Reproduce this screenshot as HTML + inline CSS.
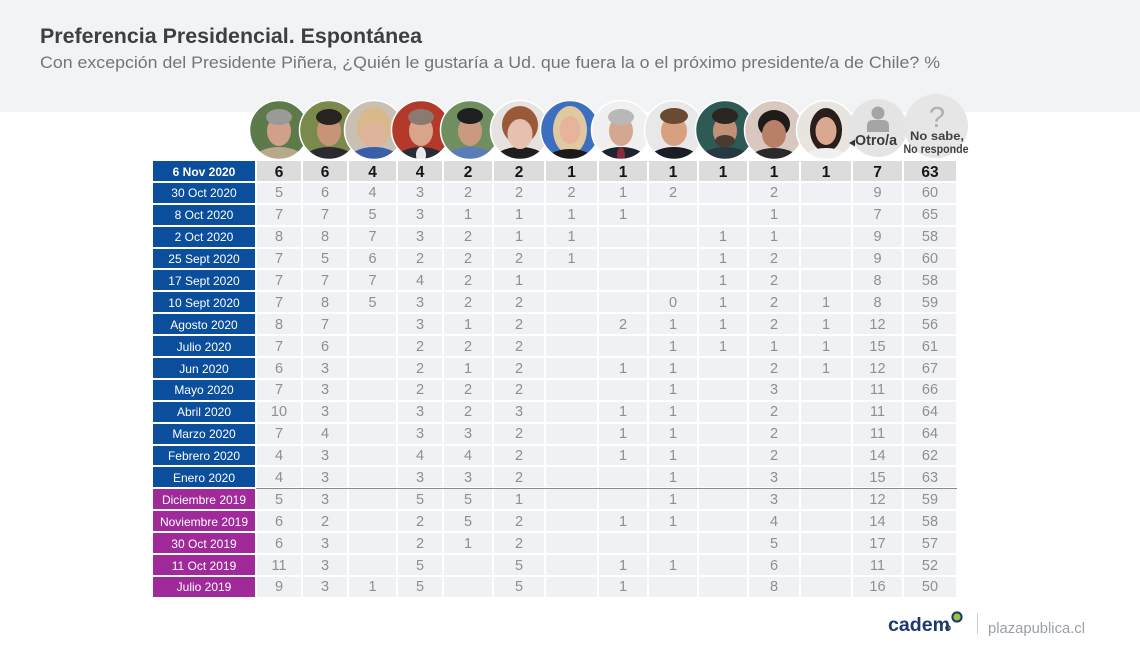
<!DOCTYPE html>
<html><head><meta charset="utf-8">
<style>
html,body{margin:0;padding:0;background:#fff;}
body{width:1140px;height:648px;position:relative;overflow:hidden;font-family:"Liberation Sans",sans-serif;}
.band{position:absolute;left:0;top:0;width:1140px;height:112px;background:#f2f3f5;}
svg.ov{position:absolute;left:0;top:0;}
.g{position:absolute;left:153px;top:161px;display:grid;grid-template-columns:102px 44px 44px 47px 44px 48px 50px 51px 48px 48px 48px 50px 50px 49px 52px;grid-auto-rows:19.9px;gap:2px;}
.g div{background:#eff1f4;color:#8f8f8f;font:14.5px/17.4px "Liberation Sans",sans-serif;padding-top:2.5px;box-sizing:border-box;text-align:center;white-space:nowrap;}
.g div.l{background:#0b4e9b;color:#fff;font-size:12px;}
.g div.p{background:#a12a9b;}
.g div.lb{font-weight:bold;}
.g div.h{background:#dcdcdc;color:#151515;font-weight:bold;font-size:15.5px;}
.div{position:absolute;left:256px;top:487.5px;width:701px;height:1.5px;background:#8a8a8a;}
</style></head><body>
<div class="band"></div>
<svg class="ov" width="1140" height="648" viewBox="0 0 1140 648">
<defs>
<clipPath id="k1"><circle cx="279" cy="130" r="29.5"/></clipPath>
<clipPath id="k2"><circle cx="329" cy="130" r="29.5"/></clipPath>
<clipPath id="k3"><circle cx="374" cy="130" r="29.5"/></clipPath>
<clipPath id="k4"><circle cx="421" cy="130" r="29.5"/></clipPath>
<clipPath id="k5"><circle cx="470" cy="130" r="29.5"/></clipPath>
<clipPath id="k6"><circle cx="520" cy="130" r="29.5"/></clipPath>
<clipPath id="k7"><circle cx="570" cy="130" r="29.5"/></clipPath>
<clipPath id="k8"><circle cx="621" cy="130" r="29.5"/></clipPath>
<clipPath id="k9"><circle cx="674" cy="130" r="29.5"/></clipPath>
<clipPath id="k10"><circle cx="725" cy="130" r="29.5"/></clipPath>
<clipPath id="k11"><circle cx="774" cy="130" r="29.5"/></clipPath>
<clipPath id="k12"><circle cx="826" cy="130" r="29.5"/></clipPath>
</defs>
<text x="40" y="43" font-family="Liberation Sans, sans-serif" font-weight="bold" font-size="21.5" fill="#3b4045" textLength="382" lengthAdjust="spacingAndGlyphs">Preferencia Presidencial. Espontánea</text>
<text x="40" y="68" font-family="Liberation Sans, sans-serif" font-size="17" fill="#72767b" textLength="900" lengthAdjust="spacingAndGlyphs">Con excepción del Presidente Piñera, ¿Quién le gustaría a Ud. que fuera la o el próximo presidente/a de Chile? %</text>

<!-- photos -->
<g clip-path="url(#k1)"><rect x="249" y="100" width="60" height="60" fill="#5c7a4a"/><ellipse cx="279" cy="162" rx="27" ry="15" fill="#b9a98c"/><ellipse cx="279" cy="131" rx="12" ry="15" fill="#d0a08a"/><ellipse cx="279" cy="117" rx="13" ry="8" fill="#9a9a98"/></g>
<circle cx="279" cy="130" r="29.5" fill="none" stroke="#fff" stroke-width="1.5"/>
<g clip-path="url(#k2)"><rect x="299" y="100" width="60" height="60" fill="#7a8a4c"/><ellipse cx="329" cy="162" rx="27" ry="15" fill="#2a2a30"/><ellipse cx="329" cy="131" rx="12" ry="15" fill="#c89478"/><ellipse cx="329" cy="117" rx="13" ry="8" fill="#2a2420"/></g>
<circle cx="329" cy="130" r="29.5" fill="none" stroke="#fff" stroke-width="1.5"/>
<g clip-path="url(#k3)"><rect x="344" y="100" width="60" height="60" fill="#c9c0b3"/><ellipse cx="374" cy="127" rx="17" ry="20" fill="#d9b98a"/><ellipse cx="374" cy="162" rx="27" ry="15" fill="#3a5fa8"/><ellipse cx="374" cy="133" rx="11.5" ry="14" fill="#e0b49c"/><ellipse cx="374" cy="116" rx="13" ry="7" fill="#d9b98a"/></g>
<circle cx="374" cy="130" r="29.5" fill="none" stroke="#fff" stroke-width="1.5"/>
<g clip-path="url(#k4)"><rect x="391" y="100" width="60" height="60" fill="#b33a2a"/><ellipse cx="421" cy="162" rx="27" ry="15" fill="#2a2d38"/><ellipse cx="421" cy="155" rx="5" ry="8" fill="#e8e8f0"/><ellipse cx="421" cy="131" rx="12" ry="15" fill="#d9a48c"/><ellipse cx="421" cy="117" rx="13" ry="8" fill="#8a7a70"/></g>
<circle cx="421" cy="130" r="29.5" fill="none" stroke="#fff" stroke-width="1.5"/>
<g clip-path="url(#k5)"><rect x="440" y="100" width="60" height="60" fill="#6f8f60"/><ellipse cx="470" cy="162" rx="27" ry="15" fill="#5a7cb8"/><ellipse cx="470" cy="131" rx="12" ry="15" fill="#c99a80"/><ellipse cx="470" cy="116" rx="13" ry="8" fill="#1f1f22"/></g>
<circle cx="470" cy="130" r="29.5" fill="none" stroke="#fff" stroke-width="1.5"/>
<g clip-path="url(#k6)"><rect x="490" y="100" width="60" height="60" fill="#e6e2e0"/><ellipse cx="520" cy="125" rx="18" ry="19" fill="#9a5a3a"/><ellipse cx="520" cy="162" rx="28" ry="15" fill="#1e1e1e"/><ellipse cx="520" cy="134" rx="12.5" ry="15" fill="#e8c0b0"/></g>
<circle cx="520" cy="130" r="29.5" fill="none" stroke="#fff" stroke-width="1.5"/>
<g clip-path="url(#k7)"><rect x="540" y="100" width="60" height="60" fill="#3d6fc0"/><ellipse cx="570" cy="130" rx="17" ry="24" fill="#e0c8a0"/><ellipse cx="570" cy="163" rx="26" ry="14" fill="#1a1a1a"/><ellipse cx="570" cy="130" rx="10.5" ry="14" fill="#e6b49c"/></g>
<circle cx="570" cy="130" r="29.5" fill="none" stroke="#fff" stroke-width="1.5"/>
<g clip-path="url(#k8)"><rect x="591" y="100" width="60" height="60" fill="#f0f0f0"/><ellipse cx="621" cy="162" rx="27" ry="15" fill="#1e2330"/><ellipse cx="621" cy="155" rx="4" ry="8" fill="#8a2a3a"/><ellipse cx="621" cy="131" rx="12" ry="15" fill="#d4a890"/><ellipse cx="621" cy="117" rx="13" ry="8" fill="#b8b8b8"/></g>
<circle cx="621" cy="130" r="29.5" fill="none" stroke="#fff" stroke-width="1.5"/>
<g clip-path="url(#k9)"><rect x="644" y="100" width="60" height="60" fill="#e8e8e8"/><ellipse cx="674" cy="162" rx="27" ry="15" fill="#1a1d26"/><ellipse cx="674" cy="131" rx="13" ry="15" fill="#d8a080"/><ellipse cx="674" cy="116" rx="14" ry="8" fill="#6a4a30"/></g>
<circle cx="674" cy="130" r="29.5" fill="none" stroke="#fff" stroke-width="1.5"/>
<g clip-path="url(#k10)"><rect x="695" y="100" width="60" height="60" fill="#2d5a55"/><ellipse cx="725" cy="162" rx="27" ry="15" fill="#263840"/><ellipse cx="725" cy="131" rx="12" ry="15" fill="#c09078"/><ellipse cx="725" cy="141" rx="10" ry="6" fill="#4a3a30"/><ellipse cx="725" cy="116" rx="13" ry="8" fill="#2b2620"/></g>
<circle cx="725" cy="130" r="29.5" fill="none" stroke="#fff" stroke-width="1.5"/>
<g clip-path="url(#k11)"><rect x="744" y="100" width="60" height="60" fill="#d8c8c0"/><ellipse cx="774" cy="124" rx="16" ry="14" fill="#1e1a18"/><ellipse cx="774" cy="163" rx="27" ry="15" fill="#2a2a2a"/><ellipse cx="774" cy="134" rx="12" ry="14" fill="#b98068"/></g>
<circle cx="774" cy="130" r="29.5" fill="none" stroke="#fff" stroke-width="1.5"/>
<g clip-path="url(#k12)"><rect x="796" y="100" width="60" height="60" fill="#e8e4e0"/><ellipse cx="826" cy="130" rx="16" ry="22" fill="#2a1e1a"/><ellipse cx="826" cy="163" rx="26" ry="15" fill="#f0f0f0"/><ellipse cx="826" cy="131" rx="10.5" ry="14" fill="#d8a890"/></g>
<circle cx="826" cy="130" r="29.5" fill="none" stroke="#fff" stroke-width="1.5"/>

<!-- Otro/a -->
<circle cx="878" cy="128" r="29" fill="#e4e4e4"/>
<circle cx="878" cy="113" r="6.5" fill="#a5a5a5"/>
<path d="M867 132 L867 126 Q867 120 873 120 L883 120 Q889 120 889 126 L889 132 Z" fill="#a5a5a5"/>
<polygon points="849,143 855,139.5 855,146.5" fill="#333"/>
<text x="855" y="145" font-family="Liberation Sans, sans-serif" font-weight="bold" font-size="14.5" fill="#3a3a3a" textLength="42" lengthAdjust="spacingAndGlyphs">Otro/a</text>
<!-- No sabe -->
<circle cx="936" cy="126" r="32" fill="#e6e6e6"/>
<text x="937" y="127" text-anchor="middle" font-family="Liberation Sans, sans-serif" font-size="29" fill="#b0b0b0">?</text>
<text x="937" y="140" text-anchor="middle" font-family="Liberation Sans, sans-serif" font-weight="bold" font-size="12" fill="#404040" textLength="54" lengthAdjust="spacingAndGlyphs">No sabe,</text>
<text x="936" y="153" text-anchor="middle" font-family="Liberation Sans, sans-serif" font-weight="bold" font-size="12" fill="#404040" textLength="65" lengthAdjust="spacingAndGlyphs">No responde</text>

<!-- logo -->
<text x="888" y="631" font-family="Liberation Sans, sans-serif" font-weight="bold" font-size="19.5" fill="#1b3a6b" textLength="62" lengthAdjust="spacingAndGlyphs">cadem</text>
<circle cx="957" cy="617" r="4.6" fill="#9bc53d" stroke="#1b3a6b" stroke-width="2"/>
<circle cx="948" cy="628" r="2.2" fill="none" stroke="#1b3a6b" stroke-width="1.3"/>
<line x1="977.5" y1="613" x2="977.5" y2="634" stroke="#cfcfcf" stroke-width="1"/>
<text x="988" y="633" font-family="Liberation Sans, sans-serif" font-size="15" fill="#9aa0a6" textLength="97" lengthAdjust="spacingAndGlyphs">plazapublica.cl</text>
</svg>

<div class="g">
<div class="l lb">6 Nov 2020</div><div class="h">6</div><div class="h">6</div><div class="h">4</div><div class="h">4</div><div class="h">2</div><div class="h">2</div><div class="h">1</div><div class="h">1</div><div class="h">1</div><div class="h">1</div><div class="h">1</div><div class="h">1</div><div class="h">7</div><div class="h">63</div>
<div class="l">30 Oct 2020</div><div>5</div><div>6</div><div>4</div><div>3</div><div>2</div><div>2</div><div>2</div><div>1</div><div>2</div><div></div><div>2</div><div></div><div>9</div><div>60</div>
<div class="l">8 Oct 2020</div><div>7</div><div>7</div><div>5</div><div>3</div><div>1</div><div>1</div><div>1</div><div>1</div><div></div><div></div><div>1</div><div></div><div>7</div><div>65</div>
<div class="l">2 Oct 2020</div><div>8</div><div>8</div><div>7</div><div>3</div><div>2</div><div>1</div><div>1</div><div></div><div></div><div>1</div><div>1</div><div></div><div>9</div><div>58</div>
<div class="l">25 Sept 2020</div><div>7</div><div>5</div><div>6</div><div>2</div><div>2</div><div>2</div><div>1</div><div></div><div></div><div>1</div><div>2</div><div></div><div>9</div><div>60</div>
<div class="l">17 Sept 2020</div><div>7</div><div>7</div><div>7</div><div>4</div><div>2</div><div>1</div><div></div><div></div><div></div><div>1</div><div>2</div><div></div><div>8</div><div>58</div>
<div class="l">10 Sept 2020</div><div>7</div><div>8</div><div>5</div><div>3</div><div>2</div><div>2</div><div></div><div></div><div>0</div><div>1</div><div>2</div><div>1</div><div>8</div><div>59</div>
<div class="l">Agosto 2020</div><div>8</div><div>7</div><div></div><div>3</div><div>1</div><div>2</div><div></div><div>2</div><div>1</div><div>1</div><div>2</div><div>1</div><div>12</div><div>56</div>
<div class="l">Julio 2020</div><div>7</div><div>6</div><div></div><div>2</div><div>2</div><div>2</div><div></div><div></div><div>1</div><div>1</div><div>1</div><div>1</div><div>15</div><div>61</div>
<div class="l">Jun 2020</div><div>6</div><div>3</div><div></div><div>2</div><div>1</div><div>2</div><div></div><div>1</div><div>1</div><div></div><div>2</div><div>1</div><div>12</div><div>67</div>
<div class="l">Mayo 2020</div><div>7</div><div>3</div><div></div><div>2</div><div>2</div><div>2</div><div></div><div></div><div>1</div><div></div><div>3</div><div></div><div>11</div><div>66</div>
<div class="l">Abril 2020</div><div>10</div><div>3</div><div></div><div>3</div><div>2</div><div>3</div><div></div><div>1</div><div>1</div><div></div><div>2</div><div></div><div>11</div><div>64</div>
<div class="l">Marzo 2020</div><div>7</div><div>4</div><div></div><div>3</div><div>3</div><div>2</div><div></div><div>1</div><div>1</div><div></div><div>2</div><div></div><div>11</div><div>64</div>
<div class="l">Febrero 2020</div><div>4</div><div>3</div><div></div><div>4</div><div>4</div><div>2</div><div></div><div>1</div><div>1</div><div></div><div>2</div><div></div><div>14</div><div>62</div>
<div class="l">Enero 2020</div><div>4</div><div>3</div><div></div><div>3</div><div>3</div><div>2</div><div></div><div></div><div>1</div><div></div><div>3</div><div></div><div>15</div><div>63</div>
<div class="l p">Diciembre 2019</div><div>5</div><div>3</div><div></div><div>5</div><div>5</div><div>1</div><div></div><div></div><div>1</div><div></div><div>3</div><div></div><div>12</div><div>59</div>
<div class="l p">Noviembre 2019</div><div>6</div><div>2</div><div></div><div>2</div><div>5</div><div>2</div><div></div><div>1</div><div>1</div><div></div><div>4</div><div></div><div>14</div><div>58</div>
<div class="l p">30 Oct 2019</div><div>6</div><div>3</div><div></div><div>2</div><div>1</div><div>2</div><div></div><div></div><div></div><div></div><div>5</div><div></div><div>17</div><div>57</div>
<div class="l p">11 Oct 2019</div><div>11</div><div>3</div><div></div><div>5</div><div></div><div>5</div><div></div><div>1</div><div>1</div><div></div><div>6</div><div></div><div>11</div><div>52</div>
<div class="l p">Julio 2019</div><div>9</div><div>3</div><div>1</div><div>5</div><div></div><div>5</div><div></div><div>1</div><div></div><div></div><div>8</div><div></div><div>16</div><div>50</div>
</div>
<div class="div"></div>
</body></html>
